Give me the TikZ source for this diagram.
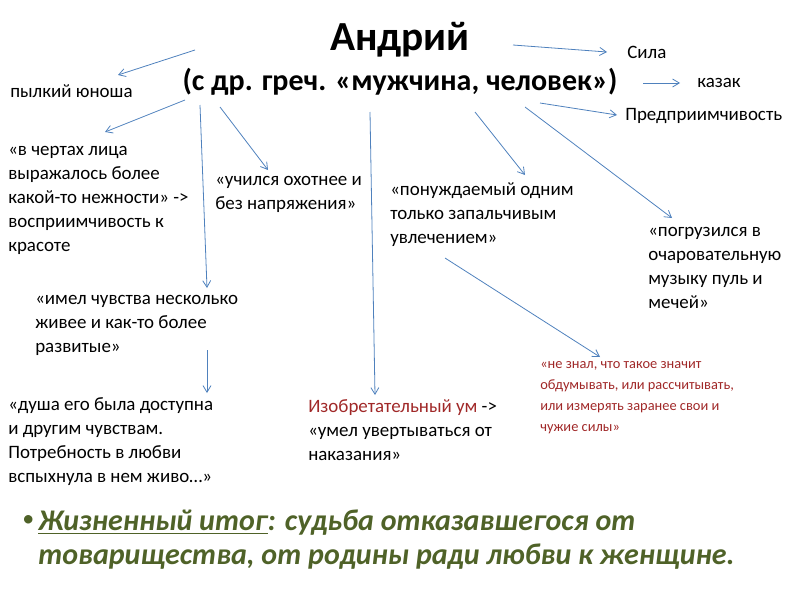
\documentclass[tikz,border=0pt]{standalone}
\usepackage{fontspec}
\setmainfont{Carlito}
\usetikzlibrary{arrows.meta}
\definecolor{arr}{RGB}{79,129,189}
\definecolor{redt}{RGB}{160,40,40}
\definecolor{grn}{RGB}{79,98,40}
\begin{document}
\begin{tikzpicture}[x=0.75pt,y=-0.75pt,
  txt/.style={anchor=north west,inner sep=0pt,align=left,font=\fontsize{14.2}{18}\selectfont},
  ar/.style={draw=arr,line width=0.6pt,-{Straight Barb[length=5pt,width=6pt]}}]
\useasboundingbox (0,0) rectangle (800,600);
\node[font=\fontsize{31}{34}\bfseries] (t1) at (400,40) {Андрий};
\node[font=\fontsize{22.5}{26}\bfseries] (t2) at (400,82) {(с др. греч. «мужчина, человек»)};
\node[txt] (a) at (10,84) {пылкий юноша};
\node[txt] (b) at (627,46) {Сила};
\node[txt] (c) at (697,78) {казак};
\node[txt] (d) at (625,108) {Предприимчивость};
\node[txt] (e) at (8,146) {«в чертах лица\\выражалось более\\какой-то нежности» ->\\восприимчивость к\\красоте};
\node[txt] (f) at (215,176) {«учился охотнее и\\без напряжения»};
\node[txt] (g) at (390,182) {«понуждаемый одним\\только запальчивым\\увлечением»};
\node[txt] (h) at (648,227) {«погрузился в\\очаровательную\\музыку пуль и\\мечей»};
\node[txt] (i) at (35,295) {«имел чувства несколько\\живее и как-то более\\развитые»};
\node[txt] (j) at (8,397) {«душа его была доступна\\и другим чувствам.\\Потребность в любви\\вспыхнула в нем живо…»};
\node[txt] (k) at (308,399) {\textcolor{redt}{Изобретательный ум} ->\\«умел увертываться от\\наказания»};
\node[txt,text=redt,font=\fontsize{10.8}{15.8}\selectfont] (l) at (540,361) {«не знал, что такое значит\\обдумывать, или рассчитывать,\\или измерять заранее свои и\\чужие силы»};
\node[anchor=north west,inner sep=0pt,font=\fontsize{18}{20}\selectfont,text=grn] (bul) at (22,515) {•};
\node[txt,text=grn,font=\fontsize{22.5}{25.5}\bfseries\itshape] (m) at (38,510) {\underline{Жизненный итог}: судьба отказавшегося от\\товарищества, от родины ради любви к женщине.};
\coordinate (s1) at (195,50); \coordinate (e1) at (118,75);
\coordinate (s2) at (185,100); \coordinate (e2) at (105,132);
\coordinate (s3) at (200,105); \coordinate (e3) at (207,288);
\coordinate (s4) at (220,107); \coordinate (e4) at (268,170);
\coordinate (s5) at (370,112); \coordinate (e5) at (375,395);
\coordinate (s6) at (475,112); \coordinate (e6) at (525,175);
\coordinate (s7) at (525,107); \coordinate (e7) at (672,218);
\coordinate (s8) at (513,45); \coordinate (e8) at (607,52);
\coordinate (s9) at (643,83); \coordinate (e9) at (680,83);
\coordinate (s10) at (540,103); \coordinate (e10) at (617,115);
\coordinate (s11) at (207,350); \coordinate (e11) at (207,393);
\coordinate (s12) at (445,258); \coordinate (e12) at (600,357);
\foreach \k in {1,...,12} \draw[ar] (s\k) -- (e\k);
\end{tikzpicture}
\end{document}
